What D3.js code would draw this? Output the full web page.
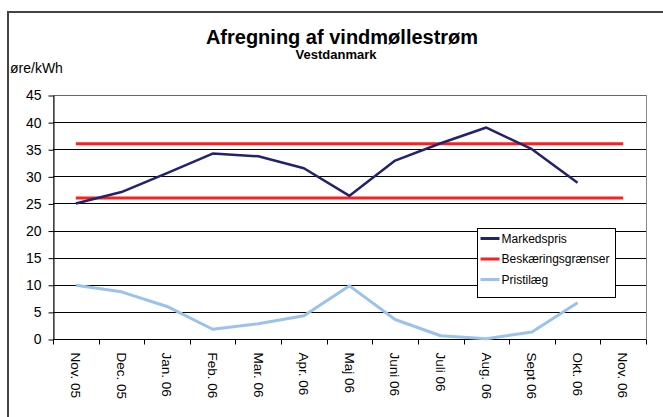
<!DOCTYPE html>
<meta charset="utf-8">
<style>
body { margin: 0; background: #fff; overflow: hidden; }
svg { display: block; }
svg text { font-family: Arial, "Liberation Sans", sans-serif; fill: #000; }
.grid line { stroke-width: 1; }
.axis path, .axis line { stroke: #000; }
</style>
<head>
<script src="https://cdn.jsdelivr.net/npm/d3@7"></script>
</head>
<body>
<script>
var months = ["Nov. 05", "Dec. 05", "Jan. 06", "Feb. 06", "Mar. 06", "Apr. 06", "Maj 06",
              "Juni 06", "Juli 06", "Aug. 06", "Sept 06", "Okt. 06", "Nov. 06"];
var markedspris = [25, 27.1, 30.6, 34.2, 33.7, 31.5, 26.4, 32.9, 36.1, 39.0, 35.0, 28.8];
var pristillaeg = [9.9, 8.7, 6.0, 1.8, 2.8, 4.3, 9.8, 3.6, 0.6, 0.05, 1.3, 6.7];
var graenseOvre = [36, 36, 36, 36, 36, 36, 36, 36, 36, 36, 36, 36, 36];
var graenseNedre = [26, 26, 26, 26, 26, 26, 26, 26, 26, 26, 26, 26, 26];
var yTicks = [0, 5, 10, 15, 20, 25, 30, 35, 40, 45];

var W = 663, H = 417;
var plotLeft = 53, plotRight = 646, plotTop = 95, plotBottom = 339;

var svg = d3.select("body").append("svg")
    .attr("width", W)
    .attr("height", H);

// outer chart frame (runs off the right/bottom edge)
svg.append("rect")
    .attr("x", 8).attr("y", 12)
    .attr("width", 700).attr("height", 450)
    .attr("fill", "#fff")
    .attr("stroke", "#444")
    .attr("stroke-width", 2);

var x = d3.scaleBand().domain(months).range([plotLeft, plotRight]);
var y = d3.scaleLinear().domain([0, 45]).range([plotBottom, plotTop]);

// plot area border
svg.append("rect")
    .attr("x", plotLeft + 0.5).attr("y", plotTop + 0.5)
    .attr("width", plotRight - plotLeft).attr("height", plotBottom - plotTop)
    .attr("fill", "none")
    .attr("stroke", "#888");

// gridlines
svg.append("g").attr("class", "grid")
  .selectAll("line")
  .data(yTicks.slice(1))
  .enter().append("line")
    .attr("x1", plotLeft).attr("x2", plotRight)
    .attr("y1", function(d) { return Math.round(y(d)) + 0.5; })
    .attr("y2", function(d) { return Math.round(y(d)) + 0.5; })
    .attr("stroke", function(d) { return d == 45 ? "#666" : "#000"; });

// y axis
var yAxis = svg.append("g")
    .attr("class", "axis")
    .attr("transform", "translate(" + (plotLeft + 0.5) + ",0.5)")
    .call(d3.axisLeft(y).tickValues(yTicks).tickSize(5).tickPadding(7).tickSizeOuter(0));
yAxis.selectAll("text")
    .style("font-size", "14px")
    .attr("font-family", "Arial, 'Liberation Sans', sans-serif");

// x axis: ticks at category boundaries
var xAxis = svg.append("g")
    .attr("class", "axis")
    .attr("transform", "translate(0," + (plotBottom + 0.5) + ")");
xAxis.append("line")
    .attr("x1", plotLeft).attr("x2", plotRight)
    .attr("stroke", "#000");
xAxis.selectAll("line.tick")
  .data(months.concat(["end"]))
  .enter().append("line")
    .attr("class", "tick")
    .attr("x1", function(d, i) { return Math.round(plotLeft + i * x.step()) + 0.5; })
    .attr("x2", function(d, i) { return Math.round(plotLeft + i * x.step()) + 0.5; })
    .attr("y1", 0).attr("y2", 5)
    .attr("stroke", "#000");
xAxis.selectAll("text")
  .data(months)
  .enter().append("text")
    .attr("transform", function(d) {
      return "translate(" + (x(d) + x.bandwidth() / 2) + ",13)rotate(90)";
    })
    .attr("dy", "0.35em")
    .style("font-size", "13.5px")
    .text(function(d) { return d; });

var cx = function(d, i) { return x(months[i]) + x.bandwidth() / 2; };

function drawLine(values, color, width) {
  svg.append("path")
    .datum(values)
    .attr("fill", "none")
    .attr("stroke", color)
    .attr("stroke-width", width)
    .attr("stroke-linejoin", "round")
    .attr("d", d3.line().x(cx).y(function(d) { return y(d); }));
}

drawLine(graenseOvre, "#ff1f1f", 3);
drawLine(graenseNedre, "#ff1f1f", 3);
drawLine(markedspris, "#22226e", 2.5);
drawLine(pristillaeg, "#99c3ec", 3);

// titles
svg.append("text")
    .attr("x", 342).attr("y", 44)
    .attr("text-anchor", "middle")
    .style("font-size", "20px").style("font-weight", "bold")
    .text("Afregning af vindmøllestrøm");
svg.append("text")
    .attr("x", 336).attr("y", 59)
    .attr("text-anchor", "middle")
    .style("font-size", "13px").style("font-weight", "bold")
    .text("Vestdanmark");
svg.append("text")
    .attr("x", 10).attr("y", 73)
    .style("font-size", "14px")
    .text("øre/kWh");

// legend
var legendItems = [
  { name: "Markedspris", color: "#22226e" },
  { name: "Beskæringsgrænser", color: "#ff1f1f" },
  { name: "Pristilæg", color: "#99c3ec" }
];
var legend = svg.append("g").attr("transform", "translate(477.5,228.5)");
legend.append("rect")
    .attr("width", 138).attr("height", 69)
    .attr("fill", "#fff")
    .attr("stroke", "#000");
var li = legend.selectAll("g.item")
  .data(legendItems)
  .enter().append("g")
    .attr("class", "item")
    .attr("transform", function(d, i) { return "translate(0," + (10 + i * 20.5) + ")"; });
li.append("line")
    .attr("x1", 3).attr("x2", 22)
    .attr("stroke", function(d) { return d.color; })
    .attr("stroke-width", 3);
li.append("text")
    .attr("x", 24).attr("dy", "0.35em")
    .style("font-size", "12px")
    .text(function(d) { return d.name; });
</script>
</body>
